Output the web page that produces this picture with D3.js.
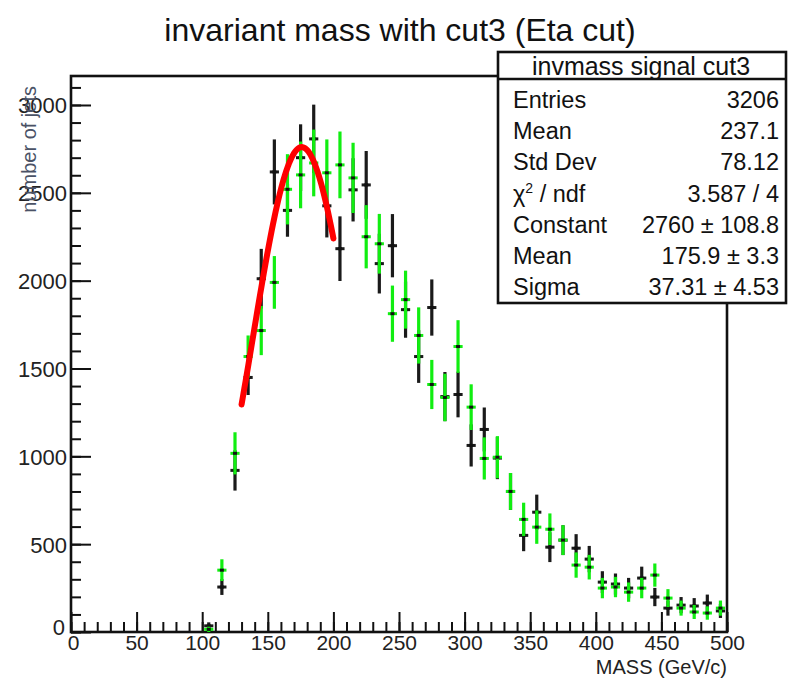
<!DOCTYPE html>
<html><head><meta charset="utf-8">
<script src="https://cdn.jsdelivr.net/npm/d3@7"></script>
<style>body{margin:0;background:#fff}svg{display:block}text{font-family:"Liberation Sans",Arial,sans-serif}</style>
</head><body><svg id="c" width="788" height="679"></svg>
<script>
// ---- data ----
const binCenters = [105,115,125,135,145,155,165,175,185,195,205,215,225,235,245,255,265,275,285,295,305,315,325,335,345,355,365,375,385,395,405,415,425,435,445,455,465,475,485,495];
const blackVals = [35,256,920,1449,2011,2619,2400,2700,2807,2426,2182,2517,2545,2097,2199,1835,1568,1847,1340,1352,1062,1153,990,800,550,682,483,523,477,415,284,273,250,307,199,136,153,148,165,120];
const blackErrs = [20,45,115,100,170,185,150,190,195,180,184,180,193,170,180,160,150,160,140,130,120,125,120,105,90,100,85,85,80,75,62,60,58,65,52,43,46,45,48,40];
const greenVals = [15,352,1017,1568,1716,1990,2520,2602,2670,2614,2659,2585,2250,2210,1812,1892,1688,1409,1335,1625,1280,988,995,800,641,597,585,523,381,369,250,256,227,250,324,193,136,114,108,136];
const greenErrs = [15,62,120,120,140,150,200,190,190,190,190,200,180,170,160,165,160,140,135,150,130,120,120,105,95,95,90,85,72,70,58,58,55,58,66,51,43,40,38,43];
const fitParams = {constant:2760, mean:175.9, sigma:37.31, from:130, to:200};
const xTicksMajor = [0,50,100,150,200,250,300,350,400,450,500];
const yTicksMajor = [0,500,1000,1500,2000,2500,3000];
const statsTitle = "invmass signal cut3";
const statsLabels = ["Entries","Mean","Std Dev","CHI","Constant","Mean","Sigma"];
const statsValues = ["3206","237.1","78.12","3.587 / 4","2760 \u00b1 108.8","175.9 \u00b1 3.3","37.31 \u00b1 4.53"];

const svg = d3.select("#c");
const x = d3.scaleLinear().domain([0,500]).range([71,727]);
const y = d3.scaleLinear().domain([0,3165]).range([632,76]);

// title
svg.append("text").attr("x",400).attr("y",41).attr("text-anchor","middle")
  .attr("font-size",32).attr("fill","#111").text("invariant mass with cut3 (Eta cut)");

// axes
const gx = svg.append("g").attr("transform","translate(0,632)");
gx.call(d3.axisBottom(x).tickValues(xTicksMajor).tickSizeInner(-20).tickSizeOuter(0).tickPadding(3).tickFormat(d3.format("d")));
const gxm = svg.append("g").attr("transform","translate(0,632)");
gxm.call(d3.axisBottom(x).tickValues(d3.range(0,501,10)).tickSize(-10).tickFormat(""));
const gy = svg.append("g").attr("transform","translate(71,0)");
gy.call(d3.axisLeft(y).tickValues(yTicksMajor).tickSizeInner(-20).tickSizeOuter(0).tickPadding(4).tickFormat(d3.format("d")));
const gym = svg.append("g").attr("transform","translate(71,0)");
gym.call(d3.axisLeft(y).tickValues(d3.range(0,3101,100)).tickSize(-10).tickFormat(""));
[gx,gxm,gy,gym].forEach(g=>{g.select(".domain").remove();g.selectAll("line").attr("stroke","#111").attr("stroke-width",2);});
gy.selectAll("text").attr("font-size",22).attr("fill","#222").attr("font-family","Liberation Sans, Arial, sans-serif");
gx.selectAll("text").attr("font-size",21).attr("fill","#222").attr("font-family","Liberation Sans, Arial, sans-serif");
gy.selectAll("text").attr("dy","0.36em");
gx.selectAll(".tick").filter(d=>d===0).select("text").attr("dx",2);
gy.selectAll(".tick").filter(d=>d===0).select("text").attr("dx",-2).attr("dy","0.1em");

// frame
svg.append("rect").attr("x",x(0)).attr("y",y.range()[1]).attr("width",x(500)-x(0)).attr("height",y(0)-y.range()[1])
  .attr("fill","none").attr("stroke","#111").attr("stroke-width",2.6);

// axis titles
svg.append("text").attr("x",727).attr("y",674).attr("text-anchor","end").attr("font-size",20).attr("fill","#222").text("MASS (GeV/c)");
svg.append("text").attr("transform","translate(36,86) rotate(-90)").attr("text-anchor","end")
  .attr("font-size",20).attr("fill","#4a5266").text("number of jets");

// histograms
function drawSeries(vals, errs, color){
  const g = svg.append("g");
  binCenters.forEach((b,i)=>{
    const v=vals[i], e=errs[i];
    g.append("line").attr("x1",x(b)).attr("x2",x(b)).attr("y1",y(Math.max(0,v-e))).attr("y2",y(v+e))
      .attr("stroke",color).attr("stroke-width",3.2);
    g.append("line").attr("x1",x(b-3.5)).attr("x2",x(b+3.5)).attr("y1",y(v)).attr("y2",y(v))
      .attr("stroke",color).attr("stroke-width",3);
    g.append("rect").attr("x",x(b)-2).attr("y",y(v)-1.5).attr("width",4).attr("height",3).attr("fill","#111");
  });
}
drawSeries(blackVals, blackErrs, "#1a1a1a");
drawSeries(greenVals, greenErrs, "#11ee11");

// fit curve
const fitX = d3.range(fitParams.from, fitParams.to+0.01, 1);
const gauss = m => fitParams.constant*Math.exp(-0.5*Math.pow((m-fitParams.mean)/fitParams.sigma,2));
svg.append("path").attr("d", d3.line().x(d=>x(d)).y(d=>y(gauss(d)))(fitX))
  .attr("fill","none").attr("stroke","#ff0000").attr("stroke-width",6).attr("stroke-linecap","round");

// stats box
const bx=498, by=52, bw=288, bh=251;
svg.append("rect").attr("x",bx).attr("y",by).attr("width",bw).attr("height",bh).attr("fill","#fff").attr("stroke","#111").attr("stroke-width",2.6);
svg.append("line").attr("x1",bx).attr("x2",bx+bw).attr("y1",79).attr("y2",79).attr("stroke","#111").attr("stroke-width",2.6);
svg.append("text").attr("x",bx+bw/2-1).attr("y",75).attr("text-anchor","middle").attr("font-size",25).attr("fill","#111").text(statsTitle);
statsLabels.forEach((l,i)=>{
  const yy = 108 + i*31.2;
  const t = svg.append("text").attr("x",513).attr("y",yy).attr("font-size",23.5).attr("fill","#111");
  if(l==="CHI"){ t.append("tspan").text("\u03c7"); t.append("tspan").attr("dy",-9).attr("font-size",14).text("2"); t.append("tspan").attr("dy",9).text(" / ndf"); }
  else t.text(l);
  svg.append("text").attr("x",779).attr("y",yy).attr("text-anchor","end").attr("font-size",23.5).attr("fill","#111").text(statsValues[i]);
});
</script></body></html>
